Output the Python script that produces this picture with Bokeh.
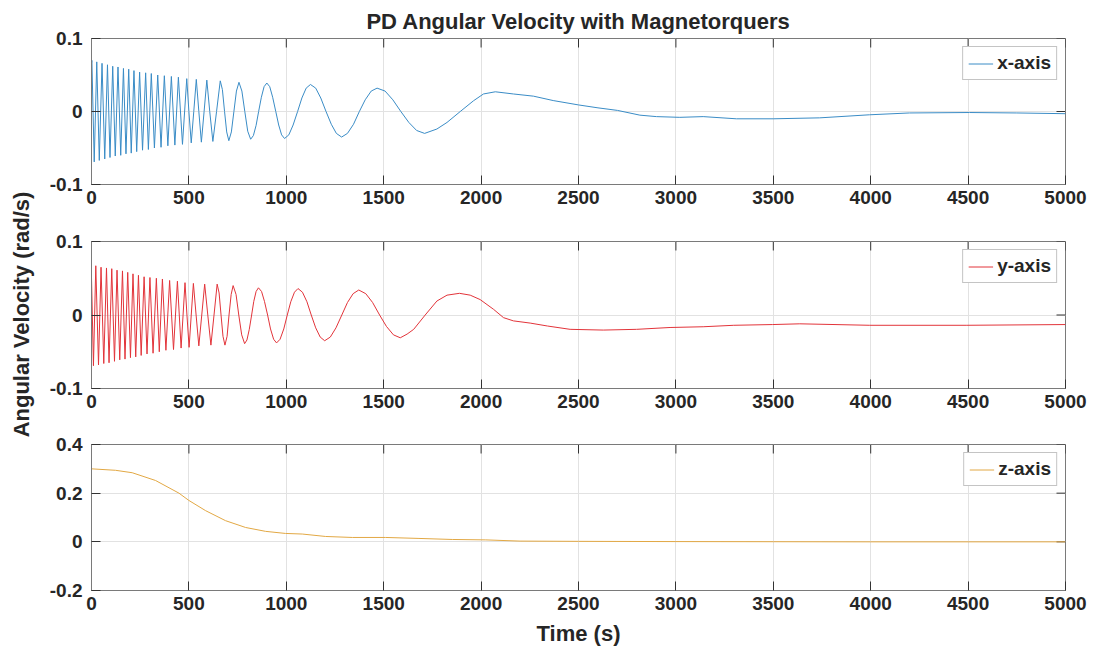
import math
from bokeh.plotting import figure
from bokeh.layouts import column, row
from bokeh.models import (Range1d, FixedTicker, Legend, LegendItem,
                          CustomJSTickFormatter)
from bokeh.core.properties import value
from bokeh.embed import file_html
from bokeh.resources import INLINE

# ---------------- data ----------------
title_text = "PD Angular Velocity with Magnetorquers"
y_label = "Angular Velocity (rad/s)"
x_label = "Time (s)"
series_names = ["x-axis", "y-axis", "z-axis"]
time_ticks = [0, 500, 1000, 1500, 2000, 2500, 3000, 3500, 4000, 4500, 5000]
rate_ticks_xy = [-0.1, 0, 0.1]
rate_ticks_z = [-0.2, 0, 0.2, 0.4]

# (time s, rate rad/s)
x_points = [
    (0, 0.066), (2, 0.070), (14, -0.069), (27, 0.068), (40, -0.067), (54, 0.066),
    (68, -0.065), (82, 0.064), (95, -0.063), (109, 0.062), (122, -0.061), (136, 0.061),
    (150, -0.060), (164, 0.059), (177, -0.058), (191, 0.058), (204, -0.057), (218, 0.056),
    (232, -0.055), (247, 0.054), (262, -0.053), (278, 0.053), (292, -0.052), (307, 0.052),
    (323, -0.050), (340, 0.050), (357, -0.049), (374, 0.049), (392, -0.047), (410, 0.048),
    (428, -0.046), (446, 0.047), (467, -0.045), (489, 0.045), (500, 0.0), (512, -0.043),
    (525, 0.0), (538, 0.044), (551, 0.0), (564, -0.042), (578, 0.0), (592, 0.043),
    (607, 0.0), (623, -0.041), (642, 0.0), (661, 0.042), (672, 0.030), (683, 0.0),
    (694, -0.028), (705, -0.040), (718, -0.028), (731, 0.0), (744, 0.028), (757, 0.040),
    (772, 0.028), (787, 0.0), (802, -0.027), (817, -0.038), (831, -0.033), (845, -0.019),
    (858, 0.0), (872, 0.0195), (886, 0.034), (900, 0.039), (915, 0.034), (930, 0.0195),
    (946, 0.0), (961, -0.0185), (976, -0.032), (991, -0.037), (1013, -0.032), (1035, -0.0185),
    (1058, 0.0), (1080, 0.0185), (1102, 0.032), (1124, 0.037), (1151, 0.032), (1177, 0.0185),
    (1204, 0.0), (1231, -0.0175), (1257, -0.030), (1284, -0.035), (1314, -0.030), (1345, -0.0175),
    (1375, 0.0), (1405, 0.016), (1436, 0.028), (1466, 0.032), (1507, 0.028), (1547, 0.016),
    (1588, 0.0), (1629, -0.015), (1669, -0.026), (1710, -0.030), (1773, -0.024), (1825, -0.015),
    (1893, 0.0), (1961, 0.0147), (2012, 0.024), (2073, 0.027), (2166, 0.024), (2269, 0.021),
    (2370, 0.015), (2500, 0.009), (2600, 0.005), (2700, 0.0015), (2815, -0.005), (2900, -0.007),
    (3020, -0.008), (3140, -0.007), (3311, -0.010), (3499, -0.010), (3738, -0.0087), (3994, -0.0045),
    (4199, -0.002), (4507, -0.0014), (4750, -0.002), (5000, -0.003),
]

y_points = [
    (0, 0.051), (10, -0.069), (22, 0.067), (36, -0.068), (49, 0.065), (63, -0.066),
    (77, 0.064), (90, -0.065), (104, 0.063), (118, -0.063), (131, 0.061), (145, -0.061),
    (159, 0.060), (172, -0.060), (186, 0.058), (200, -0.058), (213, 0.056), (227, -0.057),
    (241, 0.054), (255, -0.055), (270, 0.052), (285, -0.053), (300, 0.051), (316, -0.052),
    (333, 0.050), (348, -0.050), (364, 0.049), (382, -0.048), (401, 0.047), (421, -0.047),
    (441, 0.046), (460, -0.045), (480, 0.044), (490, 0.0), (501, -0.044), (512, 0.0),
    (523, 0.043), (537, 0.0), (551, -0.042), (566, 0.0), (581, 0.042), (597, 0.0),
    (613, -0.041), (629, 0.0), (645, 0.042), (655, 0.030), (665, 0.0), (675, -0.029),
    (685, -0.041), (696, -0.029), (706, 0.0), (717, 0.028), (727, 0.040), (742, 0.028),
    (756, 0.0), (771, -0.027), (786, -0.039), (798, -0.034), (810, -0.0195), (822, 0.0),
    (833, 0.0185), (845, 0.032), (857, 0.037), (873, 0.032), (888, 0.0185), (904, 0.0),
    (919, -0.019), (935, -0.033), (950, -0.038), (968, -0.033), (987, -0.019), (1005, 0.0),
    (1023, 0.018), (1042, 0.031), (1060, 0.036), (1083, 0.031), (1106, 0.018), (1128, 0.0),
    (1151, -0.0175), (1174, -0.030), (1197, -0.035), (1226, -0.030), (1255, -0.0175), (1285, 0.0),
    (1314, 0.017), (1343, 0.029), (1372, 0.034), (1408, 0.029), (1443, 0.017), (1479, 0.0),
    (1514, -0.0155), (1550, -0.027), (1585, -0.031), (1620, -0.026), (1654, -0.0195), (1713, 0.0),
    (1773, 0.019), (1825, 0.027), (1889, 0.0295), (1944, 0.027), (1995, 0.021), (2064, 0.0077),
    (2115, -0.0036), (2166, -0.008), (2252, -0.011), (2341, -0.015), (2457, -0.0195), (2627, -0.0205),
    (2798, -0.0195), (2970, -0.017), (3140, -0.016), (3297, -0.014), (3496, -0.013), (3636, -0.012),
    (3995, -0.014), (4490, -0.014), (5000, -0.013),
]

z_points = [
    (0, 0.300), (123, 0.294), (209, 0.284), (329, 0.252), (449, 0.200), (500, 0.170),
    (586, 0.128), (688, 0.087), (791, 0.059), (894, 0.043), (996, 0.0345), (1082, 0.032),
    (1202, 0.022), (1339, 0.018), (1510, 0.018), (1681, 0.014), (1852, 0.0097), (2024, 0.008),
    (2200, 0.003), (2500, 0.002), (3000, 0.001), (3500, 0.0005), (4000, 0.0), (4500, 0.0),
    (5000, 0.0),
]

series_colors = ["#3a8cc6", "#e2343a", "#e2a844"]

# ---------------- styling ----------------
FONT = "Liberation Sans"
TXT = "#262626"
BOX = "#7a7a7a"
TICK = "#333333"
GRID = "#e2e2e2"
TICK_LEN = 9          # px, inward tick length
FRAME_W = 974
LABEL_W = 44          # width of the strip holding the shared y label
X0, X1 = 0, 5000


def style_axis(ax, standoff):
    ax.axis_line_color = BOX
    ax.major_tick_line_color = TICK
    ax.major_tick_in = TICK_LEN
    ax.major_tick_out = 0
    ax.minor_tick_line_color = None
    ax.major_label_text_font = FONT
    ax.major_label_text_font_style = "bold"
    ax.major_label_text_font_size = "19px"
    ax.major_label_text_color = TXT
    ax.major_label_standoff = standoff


def panel(points, name, color, ymin, ymax, yticks, fh, top, bottom, title=None):
    p = figure(frame_width=FRAME_W, frame_height=fh,
               x_range=Range1d(X0, X1), y_range=Range1d(ymin, ymax),
               output_backend="svg", toolbar_location=None, title=title,
               min_border_left=91 - LABEL_W, min_border_right=30,
               min_border_top=top, min_border_bottom=bottom,
               background_fill_color="white", border_fill_color="white")
    p.outline_line_color = BOX
    p.outline_line_width = 1

    p.xaxis.ticker = FixedTicker(ticks=time_ticks)
    p.yaxis.ticker = FixedTicker(ticks=yticks)
    p.yaxis.formatter = CustomJSTickFormatter(
        code="return Math.abs(tick) < 1e-9 ? '0' : tick.toFixed(1);")
    style_axis(p.xaxis[0], 6)
    style_axis(p.yaxis[0], 9)

    p.xgrid.grid_line_color = GRID
    p.ygrid.grid_line_color = GRID

    # inward tick marks on the top and right box edges (MATLAB "box on")
    dy = (ymax - ymin) * TICK_LEN / fh
    dx = (X1 - X0) * TICK_LEN / FRAME_W
    n = len(time_ticks)
    p.segment(x0=time_ticks, y0=[ymax] * n, x1=time_ticks, y1=[ymax - dy] * n,
              line_color=TICK, line_width=1)
    m = len(yticks)
    p.segment(x0=[X1] * m, y0=yticks, x1=[X1 - dx] * m, y1=yticks,
              line_color=TICK, line_width=1)

    ts = [a for a, b in points]
    vs = [b for a, b in points]
    r = p.line(ts, vs, line_color=color, line_width=1)

    leg = Legend(items=[LegendItem(label=name, renderers=[r])], location="top_right")
    leg.label_text_font = FONT
    leg.label_text_font_style = "bold"
    leg.label_text_font_size = "19px"
    leg.label_text_color = TXT
    leg.border_line_color = "#8a8a8a"
    leg.border_line_width = 1
    leg.padding = 5
    leg.spacing = 0
    leg.margin = 8
    leg.glyph_width = 25
    leg.glyph_height = 19
    leg.label_height = 19
    leg.label_standoff = 4
    leg.background_fill_alpha = 1
    p.add_layout(leg)
    return p


p1 = panel(x_points, series_names[0], series_colors[0], -0.1, 0.1, rate_ticks_xy,
           146, 38, 28, title=title_text)
p1.title.align = "center"
p1.title.text_font = FONT
p1.title.text_font_style = "bold"
p1.title.text_font_size = "22px"
p1.title.text_color = TXT

p2 = panel(y_points, series_names[1], series_colors[1], -0.1, 0.1, rate_ticks_xy,
           147, 29, 28)

p3 = panel(z_points, series_names[2], series_colors[2], -0.2, 0.4, rate_ticks_z,
           146, 28, 67)
xa = p3.below[0]
xa.axis_label = x_label
xa.axis_label_text_font = FONT
xa.axis_label_text_font_style = "bold"
xa.axis_label_text_font_size = "22px"
xa.axis_label_text_color = TXT
xa.axis_label_standoff = 8

# shared y label in a narrow strip left of the panels
H = 657
lab = figure(width=LABEL_W, height=H, x_range=Range1d(0, LABEL_W), y_range=Range1d(0, H),
             x_axis_type=None, y_axis_type=None, output_backend="svg",
             toolbar_location=None, min_border=0,
             background_fill_color="white", border_fill_color="white")
lab.outline_line_color = None
lab.grid.visible = False
lab.text(x=[LABEL_W / 2 - 1], y=[H - 314], text=[y_label], angle=math.pi / 2,
         text_align="center", text_baseline="middle",
         text_font=value(FONT), text_font_style="bold", text_font_size="22px",
         text_color=TXT)

layout = row(lab, column(p1, p2, p3, spacing=0), spacing=0)

with open("out.html", "w") as f:
    f.write(file_html(layout, INLINE))
